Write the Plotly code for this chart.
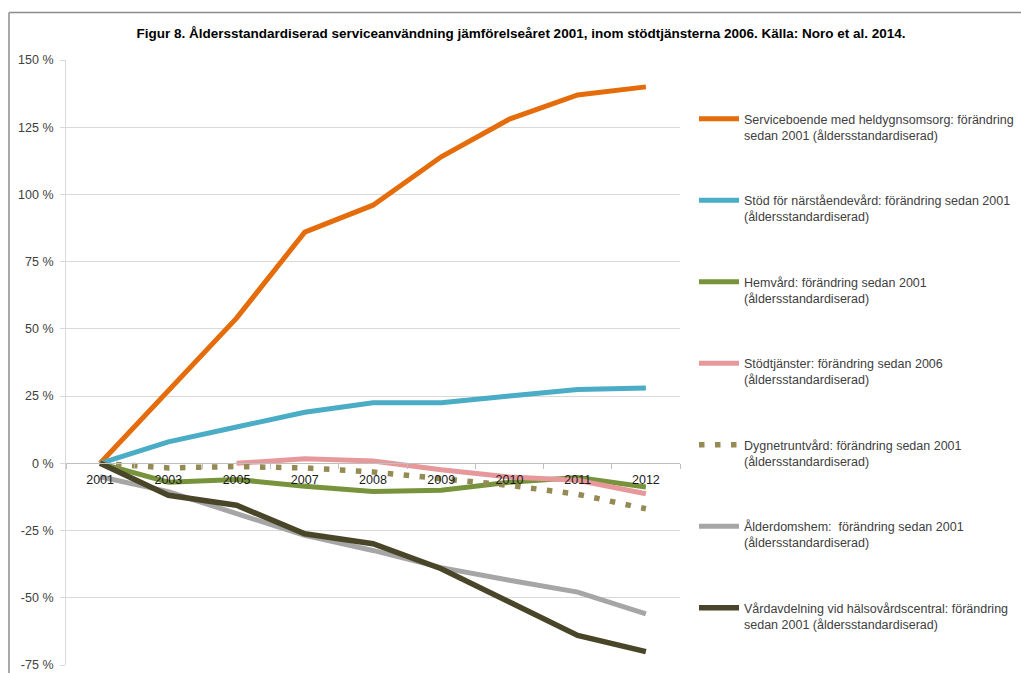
import plotly.graph_objects as go

years = ["2001", "2003", "2005", "2007", "2008", "2009", "2010", "2011", "2012"]

serviceboende = [0, 27, 54, 86, 96, 114, 128, 137, 140]
stod_narstaende = [0, 8, 13.5, 19, 22.5, 22.5, 25, 27.5, 28]
hemvard = [0, -7, -6, -8.5, -10.5, -10, -7, -5.3, -8.8]
stodtjanster = [None, None, 0, 1.7, 0.9, -2.4, -5.1, -6.3, -11.3]
dygnetrunt = [0, -1.7, -1.2, -1.7, -3.2, -5.7, -8.2, -11.5, -16.9]
alderdomshem = [-5, -10.5, -18.7, -26.8, -32.4, -38.8, -43.5, -47.9, -56]
vardavdelning = [0, -11.9, -15.6, -26.2, -29.9, -39.2, -51.6, -64, -70]

names = [
    "Serviceboende med heldygnsomsorg: förändring<br>sedan 2001 (åldersstandardiserad)",
    "Stöd för närståendevård: förändring sedan 2001<br>(åldersstandardiserad)",
    "Hemvård: förändring sedan 2001<br>(åldersstandardiserad)",
    "Stödtjänster: förändring sedan 2006<br>(åldersstandardiserad)",
    "Dygnetruntvård: förändring sedan 2001<br>(åldersstandardiserad)",
    "Ålderdomshem:  förändring sedan 2001<br>(åldersstandardiserad)",
    "Vårdavdelning vid hälsovårdscentral: förändring<br>sedan 2001 (åldersstandardiserad)",
]
series = [serviceboende, stod_narstaende, hemvard, stodtjanster, dygnetrunt, alderdomshem, vardavdelning]
colors = ["#E46C0A", "#4BACC6", "#77933C", "#E6989B", "#948A54", "#A6A6A6", "#494529"]
widths = [5, 5, 5, 5, 5.5, 5, 5.5]
dashes = ["solid", "solid", "solid", "solid", "5.5px,10.5px", "solid", "solid"]

ytick_vals = [150, 125, 100, 75, 50, 25, 0, -25, -50, -75]
ytick_text = ["150 %", "125 %", "100 %", "75 %", "50 %", "25 %", "0 %", "-25 %", "-50 %", "-75 %"]

title_text = ("Figur 8. Åldersstandardiserad serviceanvändning jämförelseåret 2001, "
              "inom stödtjänsterna 2006. Källa: Noro et al. 2014.")

fig = go.Figure()
for i, (nm, ys, c, w, d) in enumerate(zip(names, series, colors, widths, dashes)):
    fig.add_trace(go.Scatter(
        x=years, y=ys, name=nm, mode="lines",
        line=dict(color=c, width=w, dash=d),
        legendgroup=f"g{i}", connectgaps=False,
    ))

W, H = 1021, 673
L, R, T, B = 66, 341, 60, 8
pw, ph = W - L - R, H - T - B

def px_x(x):
    return (x - L) / pw

def px_y(y):
    return 1 + (T - y) / ph

fig.update_layout(
    width=W, height=H,
    margin=dict(l=L, r=R, t=T, b=B, autoexpand=False),
    paper_bgcolor="white", plot_bgcolor="white",
    font=dict(family="Liberation Sans, Arial, sans-serif", size=12, color="#404040"),
    title=dict(text="<b>" + title_text + "</b>", x=521 / W, xref="container", xanchor="center",
               y=1 - 33 / H, yref="container", yanchor="middle",
               font=dict(family="Liberation Sans, Arial, sans-serif", size=13.5, color="#000000")),
    showlegend=True,
    legend=dict(
        xref="container", yref="container",
        x=694 / W, xanchor="left", y=1 - 104 / H, yanchor="top",
        font=dict(size=12.5, color="#404040"),
        tracegroupgap=46, itemwidth=40, maxheight=640, valign="top",
        bgcolor="rgba(0,0,0,0)",
    ),
    xaxis=dict(
        type="category", anchor="free", position=75 / 225,
        showline=True, linecolor="#BFBFBF", linewidth=1,
        ticks="outside", ticklen=5, tickcolor="#BFBFBF", tickson="boundaries",
        showgrid=False, zeroline=False,
        tickfont=dict(size=12.5, color="#1A1A1A"),
        ticklabelstandoff=5,
        range=[-0.5, 8.5],
    ),
    yaxis=dict(
        range=[-75, 150], tickvals=ytick_vals, ticktext=ytick_text,
        showgrid=True, gridcolor="#D9D9D9", gridwidth=1,
        showline=True, linecolor="#D9D9D9", linewidth=1,
        ticks="outside", ticklen=5, tickcolor="#D9D9D9",
        zeroline=False,
        tickfont=dict(size=12.5, color="#404040"),
        ticklabelstandoff=4,
    ),
    shapes=[
        dict(type="line", xref="paper", yref="paper",
             x0=px_x(9), x1=px_x(1021), y0=px_y(12.5), y1=px_y(12.5),
             line=dict(color="#8C8C8C", width=1.5)),
        dict(type="line", xref="paper", yref="paper",
             x0=px_x(9), x1=px_x(9), y0=px_y(12.5), y1=px_y(673),
             line=dict(color="#8C8C8C", width=1.5)),
    ],
)

fig.write_html("out.html")
